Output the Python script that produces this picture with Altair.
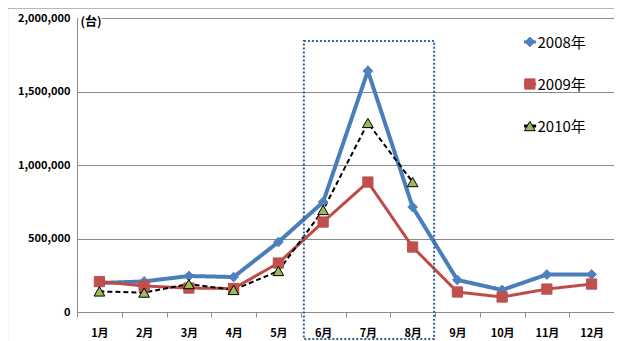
import altair as alt
import pandas as pd

# ---- data ----
months = ["1月", "2月", "3月", "4月", "5月", "6月", "7月", "8月", "9月", "10月", "11月", "12月"]
series_names = ["2008年", "2009年", "2010年"]
v2008 = [197000, 208000, 245000, 238000, 476000, 748000, 1640000, 714000, 218000, 150000, 255000, 255000]
v2009 = [207000, 177000, 163000, 160000, 333000, 612000, 884000, 442000, 136000, 102000, 156000, 190000]
v2010 = [140000, 132000, 190000, 150000, 279000, 694000, 1286000, 884000]
y_ticks = [0, 500000, 1000000, 1500000, 2000000]
y_tick_labels = ["0", "500,000", "1,000,000", "1,500,000", "2,000,000"]
unit_label = "(台)"

# highlight box (x in month-band units 0..12, y in 台)
box_x = [5.07]
box_x2 = [7.98]
box_y = [1843000]
box_y2 = [-184000]

# legend rows (x in month-band units, y in 台)
legend_sym_x = [10.12, 10.12, 10.12]
legend_line_x = [9.99, 9.99, 9.99]
legend_line_x2 = [10.26, 10.26, 10.26]
legend_text_x = [10.29, 10.29, 10.29]
legend_y = [1837000, 1551000, 1265000]

BLUE = "#4A7EBB"
RED = "#BE4B48"
GREEN = "#9BBB59"
GRID = "#8C8C8C"
FONT = "Noto Sans CJK JP"

rows = []
for name, vals in zip(series_names, [v2008, v2009, v2010]):
    for m, v in zip(months, vals):
        rows.append({"month": m, "value": v, "series": name})
df = pd.DataFrame(rows)

leg_df = pd.DataFrame({
    "series": series_names, "sx": legend_sym_x, "lx": legend_line_x, "lx2": legend_line_x2,
    "tx": legend_text_x, "y": legend_y,
})

label_expr = " : ".join(
    f"datum.value == {v} ? '{t}'" for v, t in zip(y_ticks, y_tick_labels)
) + " : ''"

y_axis = alt.Axis(
    title=None, values=y_ticks, labelExpr=label_expr, ticks=False, domainColor=GRID,
    gridColor=GRID, labelFont=FONT, labelFontWeight="bold", labelFontSize=11,
    labelColor="#000000", labelPadding=7,
)
y_scale = alt.Scale(domain=[0, 2000000], nice=False)

x_band = alt.Scale(type="band", paddingInner=0, paddingOuter=0)
x_enc = alt.X(
    "month:N", sort=months, bandPosition=0.5, scale=x_band,
    axis=alt.Axis(
        title=None, labelAngle=0, tickBand="extent", tickSize=5, tickColor=GRID,
        domainColor=GRID, labelFont=FONT, labelFontWeight="bold", labelFontSize=11,
        labelColor="#000000", labelPadding=10,
    ),
)

line_stroke = alt.Scale(domain=series_names, range=[BLUE, RED, "#000000"])
marker_fill = alt.Scale(domain=series_names, range=["#4F81BD", "#C0504D", GREEN])
marker_stroke = alt.Scale(domain=series_names, range=["#4F81BD", "#C0504D", "#000000"])
marker_shape = alt.Scale(domain=series_names, range=["diamond", "square", "triangle-up"])
marker_size = alt.Scale(domain=series_names, range=[95, 115, 130])
dash_scale = alt.Scale(domain=series_names, range=[[1, 0], [1, 0], [5, 3]])
width_scale = alt.Scale(domain=series_names, range=[4, 2, 2])

lines = alt.Chart(df).mark_line().encode(
    x=x_enc,
    y=alt.Y("value:Q", scale=y_scale, axis=y_axis),
    stroke=alt.Stroke("series:N", scale=line_stroke, legend=None),
    strokeDash=alt.StrokeDash("series:N", scale=dash_scale, legend=None),
    strokeWidth=alt.StrokeWidth("series:N", scale=width_scale, legend=None),
)

points = alt.Chart(df).mark_point(filled=True, opacity=1, strokeWidth=1).encode(
    x=alt.X("month:N", sort=months, bandPosition=0.5, scale=x_band, axis=None),
    y=alt.Y("value:Q", scale=y_scale, axis=y_axis),
    fill=alt.Fill("series:N", scale=marker_fill, legend=None),
    stroke=alt.Stroke("series:N", scale=marker_stroke, legend=None),
    shape=alt.Shape("series:N", scale=marker_shape, legend=None),
    size=alt.Size("series:N", scale=marker_size, legend=None),
)

qx = alt.Scale(domain=[0, 12], nice=False, zero=False)

# outer chart frame
frame_df = pd.DataFrame({"x": [-1.55], "x2": [14], "y": [2066000], "y2": [-600000]})
frame = alt.Chart(frame_df).mark_rect(fillOpacity=0, stroke="#A6A6A6", strokeWidth=1).encode(
    x=alt.X("x:Q", scale=qx, axis=None), x2="x2",
    y=alt.Y("y:Q", scale=y_scale, axis=y_axis), y2="y2",
)

box_df = pd.DataFrame({"x": box_x, "x2": box_x2, "y": box_y, "y2": box_y2})
box = alt.Chart(box_df).mark_rect(fillOpacity=0, stroke="#2F5F96", strokeWidth=2, strokeDash=[2, 2]).encode(
    x=alt.X("x:Q", scale=qx, axis=None), x2="x2",
    y=alt.Y("y:Q", scale=y_scale, axis=y_axis), y2="y2",
)

unit_bg_df = pd.DataFrame({"x": [0.03], "x2": [0.55], "y": [2022000], "y2": [1932000]})
unit_bg = alt.Chart(unit_bg_df).mark_rect(fill="white").encode(
    x=alt.X("x:Q", scale=qx, axis=None), x2="x2",
    y=alt.Y("y:Q", scale=y_scale, axis=y_axis), y2="y2",
)
unit_df = pd.DataFrame({"x": [0.08], "y": [1975000], "t": [unit_label]})
unit = alt.Chart(unit_df).mark_text(
    align="left", baseline="middle", font=FONT, fontSize=12, fontWeight="bold", color="#000000"
).encode(
    x=alt.X("x:Q", scale=qx, axis=None),
    y=alt.Y("y:Q", scale=y_scale, axis=y_axis),
    text="t:N",
)

# custom legend (line + marker + label)
leg_lines = alt.Chart(leg_df).mark_rule(strokeWidth=3).encode(
    x=alt.X("lx:Q", scale=qx, axis=None), x2="lx2",
    y=alt.Y("y:Q", scale=y_scale, axis=y_axis),
    stroke=alt.Stroke("series:N", scale=line_stroke, legend=None),
)
leg_pts = alt.Chart(leg_df).mark_point(filled=True, opacity=1, strokeWidth=1).encode(
    x=alt.X("sx:Q", scale=qx, axis=None),
    y=alt.Y("y:Q", scale=y_scale, axis=y_axis),
    fill=alt.Fill("series:N", scale=marker_fill, legend=None),
    stroke=alt.Stroke("series:N", scale=marker_stroke, legend=None),
    shape=alt.Shape("series:N", scale=marker_shape, legend=None),
    size=alt.Size("series:N", scale=marker_size, legend=None),
)
leg_txt = alt.Chart(leg_df).mark_text(
    align="left", baseline="middle", font=FONT, fontSize=15, color="#000000", dy=1
).encode(
    x=alt.X("tx:Q", scale=qx, axis=None),
    y=alt.Y("y:Q", scale=y_scale, axis=y_axis),
    text="series:N",
)

chart = alt.layer(frame, lines, box, points, unit_bg, unit, leg_lines, leg_pts, leg_txt).resolve_scale(
    x="independent", stroke="independent"
).properties(
    width=537, height=294,
    padding={"left": 69, "top": 10, "right": 0, "bottom": 29},
    autosize="none",
).configure_view(stroke=None).configure(background="white")

chart.save("out.html", embed_options={"renderer": "svg", "actions": False})
